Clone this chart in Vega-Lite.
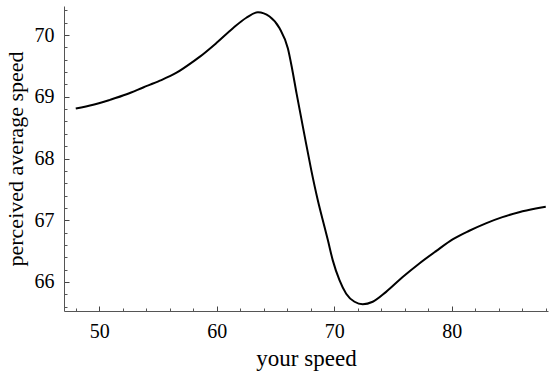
{
  "$schema": "https://vega.github.io/schema/vega-lite/v6.json",
  "autosize": "none",
  "width": 484,
  "height": 305,
  "padding": {"left": 64, "top": 6, "right": 3, "bottom": 65},
  "background": "white",
  "config": {"view": {"stroke": null}, "font": "Liberation Serif"},
  "data": {"values": [
    {"x": 48.0, "y": 68.81}, {"x": 49.49, "y": 68.87}, {"x": 50.91, "y": 68.95}, {"x": 52.33, "y": 69.04},
    {"x": 53.74, "y": 69.15}, {"x": 55.16, "y": 69.26}, {"x": 56.58, "y": 69.39}, {"x": 57.99, "y": 69.57},
    {"x": 58.57, "y": 69.65}, {"x": 59.97, "y": 69.87}, {"x": 61.38, "y": 70.11}, {"x": 62.52, "y": 70.28},
    {"x": 63.51, "y": 70.37}, {"x": 64.5, "y": 70.3}, {"x": 65.35, "y": 70.11}, {"x": 66.06, "y": 69.78},
    {"x": 66.4, "y": 69.47}, {"x": 66.8, "y": 69.05}, {"x": 67.2, "y": 68.65}, {"x": 67.6, "y": 68.25},
    {"x": 68.04, "y": 67.82}, {"x": 68.61, "y": 67.32}, {"x": 69.03, "y": 67.0}, {"x": 69.46, "y": 66.68},
    {"x": 69.88, "y": 66.35}, {"x": 70.45, "y": 66.03}, {"x": 71.02, "y": 65.81}, {"x": 71.73, "y": 65.68},
    {"x": 72.43, "y": 65.64}, {"x": 73.28, "y": 65.68}, {"x": 74.42, "y": 65.84}, {"x": 75.83, "y": 66.08},
    {"x": 77.25, "y": 66.3}, {"x": 78.67, "y": 66.5}, {"x": 80.08, "y": 66.69}, {"x": 81.5, "y": 66.83},
    {"x": 82.91, "y": 66.95}, {"x": 84.32, "y": 67.05}, {"x": 85.74, "y": 67.13}, {"x": 87.16, "y": 67.19},
    {"x": 88.01, "y": 67.22}
  ]},
  "resolve": {"axis": {"x": "independent", "y": "independent"}},
  "layer": [
    {
      "mark": {"type": "line", "color": "black", "strokeOpacity": 0},
      "encoding": {
        "x": {
          "field": "x", "type": "quantitative",
          "scale": {"domain": [47, 88.2], "nice": false, "zero": false},
          "axis": {
            "orient": "top", "offset": -305, "title": null, "labels": false, "domain": false, "grid": false,
            "values": [48, 52, 54, 56, 58, 62, 64, 66, 68, 72, 74, 76, 78, 82, 84, 86, 88],
            "ticks": true, "tickSize": 3, "tickColor": "#555", "tickWidth": 1
          }
        },
        "y": {
          "field": "y", "type": "quantitative",
          "scale": {"domain": [65.53, 70.47], "nice": false, "zero": false},
          "axis": {
            "orient": "right", "offset": -484, "title": null, "labels": false, "domain": false, "grid": false,
            "values": [65.6, 65.8, 66.2, 66.4, 66.6, 66.8, 67.2, 67.4, 67.6, 67.8, 68.2, 68.4, 68.6, 68.8, 69.2, 69.4, 69.6, 69.8, 70.2, 70.4],
            "ticks": true, "tickSize": 3, "tickColor": "#555", "tickWidth": 1
          }
        }
      }
    },
    {
      "mark": {"type": "line", "color": "black", "strokeOpacity": 0},
      "encoding": {
        "x": {
          "field": "x", "type": "quantitative",
          "scale": {"domain": [47, 88.2], "nice": false, "zero": false},
          "axis": {
            "orient": "top", "offset": -305, "title": null, "labels": false, "domain": false, "grid": false,
            "values": [50, 60, 70, 80],
            "ticks": true, "tickSize": 5, "tickColor": "#444", "tickWidth": 1
          }
        },
        "y": {
          "field": "y", "type": "quantitative",
          "scale": {"domain": [65.53, 70.47], "nice": false, "zero": false},
          "axis": {
            "orient": "right", "offset": -484, "title": null, "labels": false, "domain": false, "grid": false,
            "values": [66, 67, 68, 69, 70],
            "ticks": true, "tickSize": 5, "tickColor": "#444", "tickWidth": 1
          }
        }
      }
    },
    {
      "mark": {"type": "line", "color": "black", "strokeWidth": 2, "interpolate": "monotone"},
      "encoding": {
        "x": {
          "field": "x", "type": "quantitative",
          "scale": {"domain": [47, 88.2], "nice": false, "zero": false},
          "axis": {
            "orient": "bottom",
            "title": "your speed",
            "titleFont": "Liberation Serif", "titleFontSize": 23, "titleFontWeight": "normal", "titleColor": "black",
            "titlePadding": 6,
            "values": [50, 60, 70, 80],
            "labelFont": "Liberation Serif", "labelFontSize": 20, "labelColor": "black",
            "labelPadding": 10, "labelOverlap": false, "labelFlush": false,
            "ticks": false,
            "domainColor": "#555", "domainWidth": 1,
            "grid": false
          }
        },
        "y": {
          "field": "y", "type": "quantitative",
          "scale": {"domain": [65.53, 70.47], "nice": false, "zero": false},
          "axis": {
            "orient": "left",
            "title": "perceived average speed",
            "titleFont": "Liberation Serif", "titleFontSize": 22, "titleFontWeight": "normal", "titleColor": "black",
            "titlePadding": 7,
            "values": [66, 67, 68, 69, 70],
            "labelFont": "Liberation Serif", "labelFontSize": 20, "labelColor": "black",
            "labelPadding": 10, "labelOverlap": false, "labelFlush": false,
            "ticks": false,
            "domainColor": "#555", "domainWidth": 1,
            "grid": false
          }
        }
      }
    }
  ]
}
